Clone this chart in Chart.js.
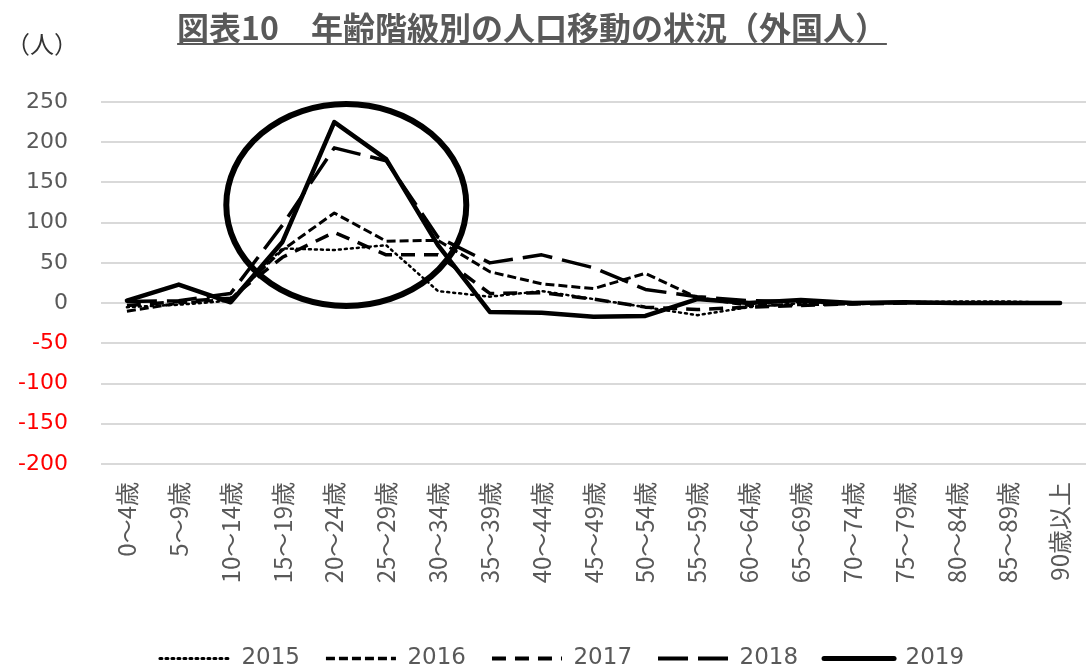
<!DOCTYPE html>
<html>
<head>
<meta charset="utf-8">
<script src="https://cdn.jsdelivr.net/npm/chart.js@4"></script>
<style>
  body { margin: 0; background: #fff; }
  #wrap { width: 1086px; height: 668px; position: relative; }
</style>
</head>
<body>
<div id="wrap"><canvas id="myChart"></canvas></div>
<script>
const titleText = "図表10　年齢階級別の人口移動の状況（外国人）";
const unitText = "（人）";

const ageGroups = ["0～4歳", "5～9歳", "10～14歳", "15～19歳", "20～24歳", "25～29歳", "30～34歳",
    "35～39歳", "40～44歳", "45～49歳", "50～54歳", "55～59歳", "60～64歳", "65～69歳",
    "70～74歳", "75～79歳", "80～84歳", "85～89歳", "90歳以上"];

const years = ["2015", "2016", "2017", "2018", "2019"];

const values2015 = [-5, -2, 3, 68, 66, 72, 15, 8, 15, 5, -5, -15, -5, 0, 0, 1, 2, 2, 0];
const values2016 = [-10, 0, 5, 66, 112, 77, 78, 39, 24, 18, 37, 7, -3, -2, -1, 1, 0, 0, 0];
const values2017 = [-3, 2, 6, 57, 88, 60, 60, 12, 13, 5, -5, -8, -5, -3, -1, 0, 0, 0, 0];
const values2018 = [2, 3, 12, 97, 193, 177, 82, 50, 60, 44, 17, 8, 3, 2, 0, 1, 0, 0, 0];
const values2019 = [3, 23, 1, 76, 225, 179, 72, -11, -12, -17, -16, 5, 0, 4, 0, 1, 0, 0, 0];

const yTicks = [250, 200, 150, 100, 50, 0, -50, -100, -150, -200];

const jpFont = "'Noto Sans CJK JP', 'Noto Sans', sans-serif";
const numFont = "'DejaVu Sans', 'Noto Sans CJK JP', sans-serif";

// line styles per year: width, dash
const lineStyles = [
    { width: 2.5, dash: [2, 4], cap: "round" },
    { width: 3, dash: [9, 4], cap: "butt" },
    { width: 3.5, dash: [14, 9], cap: "butt" },
    { width: 3.5, dash: [30, 10], cap: "butt" },
    { width: 4.5, dash: [], cap: "round" }
];

const seriesValues = [values2015, values2016, values2017, values2018, values2019];

const datasets = years.map(function (year, i) {
    return {
        label: year,
        data: seriesValues[i],
        borderColor: "#000",
        backgroundColor: "#000",
        borderWidth: lineStyles[i].width,
        borderDash: lineStyles[i].dash,
        borderCapStyle: lineStyles[i].cap,
        borderJoinStyle: "round",
        pointRadius: 0,
        tension: 0,
        fill: false
    };
});

// title with underline, unit label, and the highlight ellipse
const decorPlugin = {
    id: "decor",
    afterLayout: function (chart) {
        // legend sits a bit right of the canvas centre in the original
        if (chart.legend) {
            chart.legend.left += 19;
            chart.legend.right += 19;
        }
    },
    afterDraw: function (chart) {
        const ctx = chart.ctx;
        ctx.save();
        ctx.font = "bold 32px " + jpFont;
        ctx.fillStyle = "#595959";
        ctx.textBaseline = "middle";
        ctx.textAlign = "left";
        let w = ctx.measureText(titleText).width;
        let x0 = 532 - w / 2;
        ctx.fillText(titleText, x0, 28);
        ctx.fillRect(x0, 43, w, 2);

        ctx.font = "24px " + jpFont;
        ctx.fillStyle = "#333";
        ctx.fillText(unitText, 6, 44);

        // ellipse around the 20-29 peak
        const xs = chart.scales.x;
        const ys = chart.scales.y;
        let cx = xs.getPixelForValue(4) + 12;
        let cy = ys.getPixelForValue(122);
        ctx.beginPath();
        ctx.ellipse(cx, cy, 120, 101, 0, 0, Math.PI * 2);
        ctx.lineWidth = 6;
        ctx.strokeStyle = "#000";
        ctx.stroke();
        ctx.restore();
    }
};

const ctx = document.getElementById("myChart").getContext("2d");
new Chart(ctx, {
    type: "line",
    data: { labels: ageGroups, datasets: datasets },
    options: {
        responsive: true,
        maintainAspectRatio: false,
        animation: false,
        layout: { padding: { top: 102, right: 0, left: 0, bottom: -12 } },
        plugins: {
            title: { display: false },
            tooltip: { enabled: false },
            legend: {
                position: "bottom",
                labels: {
                    usePointStyle: true,
                    pointStyle: "line",
                    pointStyleWidth: 70,
                    boxHeight: 20,
                    padding: 26,
                    color: "#595959",
                    font: { family: numFont, size: 23 },
                    generateLabels: function (chart) {
                        return chart.data.datasets.map(function (ds, i) {
                            return {
                                text: ds.label,
                                fillStyle: "#000",
                                strokeStyle: "#000",
                                lineWidth: ds.borderWidth + 0.5,
                                lineDash: ds.borderDash,
                                lineCap: ds.borderCapStyle,
                                pointStyle: "line",
                                fontColor: "#595959",
                                hidden: false,
                                datasetIndex: i
                            };
                        });
                    }
                }
            }
        },
        scales: {
            x: {
                offset: true,
                grid: { display: false, drawTicks: false },
                border: { display: false },
                ticks: {
                    autoSkip: false,
                    minRotation: 90,
                    maxRotation: 90,
                    padding: 18,
                    color: "#595959",
                    font: { family: jpFont, size: 24 }
                },
                afterFit: function (scale) {
                    scale.height = 157;
                    scale.paddingLeft = 0;
                    scale.paddingRight = 0;
                }
            },
            y: {
                min: -200,
                max: 250,
                afterBuildTicks: function (scale) {
                    scale.ticks = yTicks.map(function (v) { return { value: v }; });
                },
                grid: { color: "#d9d9d9", lineWidth: 2, drawTicks: false },
                border: { display: false },
                ticks: {
                    padding: 33,
                    color: function (c) { return c.tick && c.tick.value < 0 ? "#ff0000" : "#595959"; },
                    font: { family: numFont, size: 22 }
                },
                afterFit: function (scale) {
                    scale.width = 101;
                    scale.paddingTop = 0;
                    scale.paddingBottom = 0;
                }
            }
        }
    },
    plugins: [decorPlugin]
});
</script>
</body>
</html>
